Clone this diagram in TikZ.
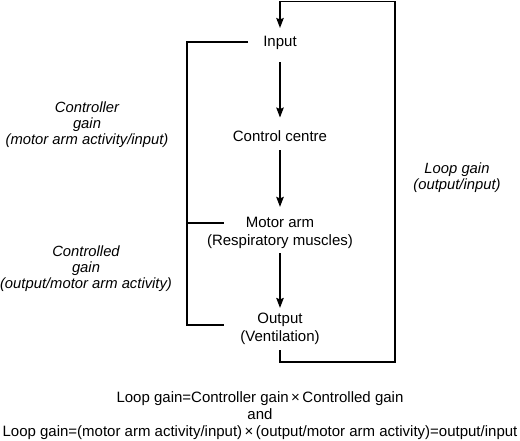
\documentclass[tikz,border=0pt]{standalone}
\usepackage{fontspec}
\setmainfont{Liberation Sans}
\usetikzlibrary{arrows.meta}
\begin{document}
\begin{tikzpicture}[x=1pt,y=1pt,
  lbl/.style={inner sep=0pt, align=center, font=\fontsize{15}{18}\selectfont, anchor=base},
  gainlbl/.style={lbl, font=\fontsize{14.8}{16}\selectfont\itshape},
  eqlbl/.style={lbl, font=\fontsize{15}{17}\selectfont},
  flow/.style={line width=1.5pt, -{Stealth[length=10pt,width=7.5pt,inset=1.5pt]}},
  bracket/.style={line width=1.5pt}]
\useasboundingbox (0,0) rectangle (520,440);
% flow nodes (base = baseline of last line)
\node[lbl] (inp) at (280,393) {Input};
\node[lbl] (cc) at (280,298) {Control centre};
\node[lbl] (ma) at (280,194) {Motor arm\\(Respiratory muscles)};
\node[lbl] (out) at (280,99) {Output\\(Ventilation)};
% gain labels
\node[gainlbl] (cg) at (87,295) {Controller\\gain\\(motor arm activity/input)};
\node[gainlbl] (cdg) at (86,152) {Controlled\\gain\\(output/motor arm activity)};
\node[gainlbl] (lg) at (457,251) {Loop gain\\(output/input)};
% equations
\node[eqlbl] (eq) at (260,4) {Loop gain=Controller gain\,×\,Controlled gain\\and\\Loop gain=(motor arm activity/input)\,×\,(output/motor arm activity)=output/input};
% arrows
\draw[flow, shorten <=12pt, shorten >=13.4pt] (inp.south) -- (cc.north);
\draw[flow, shorten <=8pt, shorten >=10.6pt] (cc.south) -- (ma.north);
\draw[flow, shorten <=4pt, shorten >=4.4pt] (ma.south) -- (out.north);
% feedback loop
\coordinate (lb) at (395,78);
\coordinate (lt) at (395,438.5);
\draw[flow, shorten <=6pt, shorten >=8.5pt] (out.south) |- (lb) -- (lt) -| (inp.north);
% bracket
\coordinate (bt) at (248,398);
\coordinate (bc) at (187,398);
\coordinate (bb) at (187,115);
\coordinate (bbr) at (224,115);
\coordinate (bm) at (187,217);
\coordinate (bmr) at (224,217);
\draw[bracket] (bt) -- (bc) -- (bb) -- (bbr);
\draw[bracket] (bm) -- (bmr);
\end{tikzpicture}
\end{document}
